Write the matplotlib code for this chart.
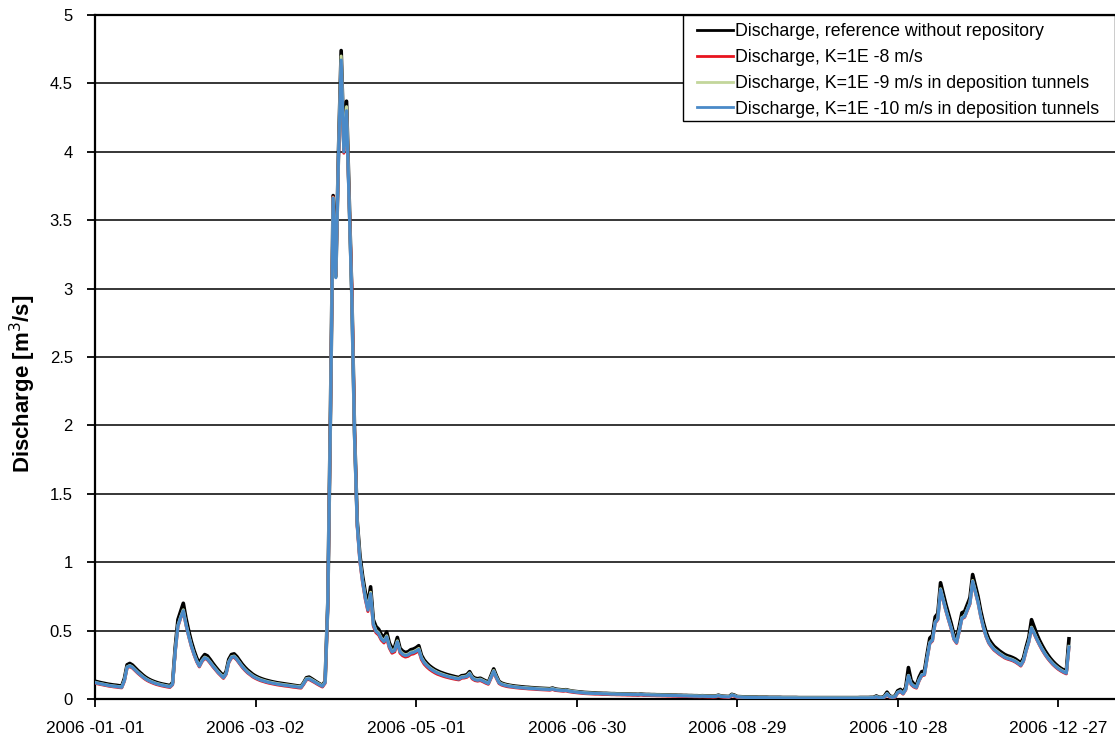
import numpy as np
import pandas as pd
import matplotlib
matplotlib.use('Agg')
import matplotlib.pyplot as plt
from matplotlib.patches import Rectangle
from matplotlib.ticker import FixedLocator, FixedFormatter

plt.rcParams.update({'font.family': ['Liberation Sans', 'DejaVu Sans'], 'axes.unicode_minus': False})

START_DATE = '2006-01-01'
N_DAYS = 365

# daily discharge [m3/s] (Jan..Dec)
ref_q = [
    0.130, 0.125, 0.120, 0.116, 0.112, 0.108, 0.105, 0.102, 0.100, 0.097, 0.095, 0.150, 0.250, 0.260, 0.248, 0.228, 0.208, 0.190, 0.173, 0.158, 0.146, 0.136, 0.128, 0.121, 0.115, 0.110, 0.106, 0.102, 0.098, 0.120, 0.380,
    0.580, 0.640, 0.700, 0.590, 0.500, 0.420, 0.355, 0.300, 0.260, 0.300, 0.325, 0.315, 0.290, 0.262, 0.236, 0.212, 0.190, 0.170, 0.200, 0.290, 0.325, 0.330, 0.310, 0.282, 0.255, 0.232, 0.212, 0.196,
    0.180, 0.168, 0.158, 0.150, 0.143, 0.137, 0.132, 0.127, 0.123, 0.119, 0.116, 0.113, 0.110, 0.107, 0.104, 0.101, 0.098, 0.095, 0.093, 0.120, 0.155, 0.160, 0.148, 0.135, 0.122, 0.110, 0.100, 0.130, 0.700, 2.100, 3.680,
    3.090, 4.000, 4.740, 4.050, 4.370, 3.650, 2.950, 1.950, 1.300, 1.050, 0.900, 0.780, 0.690, 0.820, 0.580, 0.530, 0.510, 0.470, 0.450, 0.490, 0.410, 0.370, 0.380, 0.450, 0.370, 0.350, 0.340, 0.345, 0.360, 0.365,
    0.375, 0.390, 0.320, 0.285, 0.262, 0.243, 0.228, 0.215, 0.205, 0.196, 0.189, 0.182, 0.176, 0.171, 0.166, 0.161, 0.157, 0.170, 0.172, 0.178, 0.200, 0.165, 0.152, 0.148, 0.152, 0.142, 0.132, 0.122, 0.170, 0.220, 0.170,
    0.128, 0.116, 0.109, 0.104, 0.100, 0.097, 0.094, 0.092, 0.090, 0.088, 0.086, 0.085, 0.083, 0.082, 0.080, 0.079, 0.078, 0.077, 0.076, 0.075, 0.080, 0.073, 0.070, 0.068, 0.066, 0.068, 0.063, 0.059, 0.056, 0.054,
    0.052, 0.050, 0.048, 0.047, 0.046, 0.045, 0.044, 0.043, 0.042, 0.041, 0.041, 0.040, 0.039, 0.039, 0.038, 0.038, 0.037, 0.037, 0.036, 0.036, 0.035, 0.035, 0.034, 0.036, 0.034, 0.033, 0.033, 0.032, 0.032, 0.031, 0.031,
    0.030, 0.030, 0.029, 0.029, 0.028, 0.028, 0.027, 0.027, 0.026, 0.026, 0.025, 0.025, 0.024, 0.024, 0.023, 0.024, 0.023, 0.022, 0.022, 0.021, 0.022, 0.028, 0.022, 0.020, 0.019, 0.018, 0.034, 0.028, 0.018, 0.017, 0.016,
    0.015, 0.015, 0.014, 0.014, 0.014, 0.013, 0.013, 0.013, 0.013, 0.012, 0.012, 0.012, 0.012, 0.012, 0.011, 0.011, 0.011, 0.011, 0.011, 0.011, 0.010, 0.010, 0.010, 0.010, 0.010, 0.010, 0.010, 0.010, 0.010, 0.010,
    0.010, 0.010, 0.010, 0.010, 0.010, 0.010, 0.010, 0.010, 0.010, 0.010, 0.010, 0.010, 0.010, 0.011, 0.011, 0.011, 0.011, 0.012, 0.012, 0.022, 0.013, 0.012, 0.020, 0.050, 0.022, 0.016, 0.022, 0.060, 0.070, 0.050, 0.085,
    0.230, 0.135, 0.110, 0.100, 0.160, 0.200, 0.205, 0.330, 0.445, 0.465, 0.600, 0.625, 0.850, 0.770, 0.690, 0.620, 0.550, 0.470, 0.440, 0.530, 0.630, 0.640, 0.690, 0.740, 0.910, 0.830, 0.750, 0.645, 0.560, 0.490,
    0.440, 0.410, 0.385, 0.368, 0.352, 0.338, 0.325, 0.316, 0.310, 0.302, 0.292, 0.278, 0.262, 0.300, 0.380, 0.450, 0.580, 0.525, 0.472, 0.428, 0.390, 0.355, 0.325, 0.298, 0.275, 0.255, 0.238, 0.224, 0.212, 0.202, 0.440,
]

k8_q = [
    0.116, 0.111, 0.107, 0.103, 0.099, 0.095, 0.092, 0.089, 0.087, 0.084, 0.082, 0.130, 0.227, 0.237, 0.226, 0.207, 0.188, 0.171, 0.155, 0.141, 0.130, 0.121, 0.113, 0.106, 0.101, 0.096, 0.092, 0.088, 0.085, 0.104, 0.345,
    0.530, 0.590, 0.640, 0.540, 0.457, 0.383, 0.323, 0.272, 0.235, 0.273, 0.297, 0.287, 0.263, 0.237, 0.213, 0.190, 0.170, 0.151, 0.180, 0.265, 0.300, 0.305, 0.285, 0.258, 0.232, 0.210, 0.191, 0.176,
    0.161, 0.150, 0.141, 0.133, 0.127, 0.121, 0.116, 0.112, 0.108, 0.104, 0.101, 0.098, 0.095, 0.093, 0.090, 0.087, 0.085, 0.082, 0.080, 0.107, 0.140, 0.143, 0.132, 0.121, 0.109, 0.098, 0.088, 0.115, 0.680, 2.070, 3.670,
    3.100, 3.960, 4.650, 3.990, 4.290, 3.630, 3.000, 1.960, 1.260, 1.000, 0.850, 0.730, 0.640, 0.760, 0.535, 0.485, 0.468, 0.430, 0.410, 0.445, 0.372, 0.335, 0.345, 0.408, 0.335, 0.316, 0.307, 0.312, 0.326, 0.330,
    0.340, 0.352, 0.288, 0.255, 0.234, 0.217, 0.203, 0.191, 0.181, 0.174, 0.167, 0.161, 0.156, 0.151, 0.147, 0.143, 0.140, 0.152, 0.154, 0.159, 0.179, 0.147, 0.135, 0.131, 0.135, 0.126, 0.116, 0.108, 0.151, 0.197, 0.151,
    0.113, 0.102, 0.096, 0.091, 0.088, 0.086, 0.083, 0.081, 0.079, 0.077, 0.076, 0.074, 0.073, 0.072, 0.070, 0.069, 0.068, 0.067, 0.066, 0.065, 0.070, 0.063, 0.061, 0.059, 0.057, 0.059, 0.054, 0.051, 0.048, 0.046,
    0.044, 0.042, 0.040, 0.039, 0.038, 0.037, 0.036, 0.036, 0.035, 0.034, 0.034, 0.033, 0.032, 0.032, 0.031, 0.031, 0.030, 0.030, 0.029, 0.029, 0.028, 0.028, 0.027, 0.029, 0.027, 0.026, 0.026, 0.025, 0.025, 0.024, 0.024,
    0.023, 0.023, 0.022, 0.022, 0.021, 0.021, 0.020, 0.020, 0.019, 0.019, 0.018, 0.018, 0.017, 0.017, 0.016, 0.017, 0.016, 0.015, 0.015, 0.014, 0.015, 0.020, 0.015, 0.013, 0.012, 0.011, 0.025, 0.020, 0.011, 0.010, 0.009,
    0.008, 0.008, 0.007, 0.007, 0.007, 0.006, 0.006, 0.006, 0.006, 0.005, 0.005, 0.005, 0.005, 0.005, 0.004, 0.004, 0.004, 0.004, 0.004, 0.004, 0.004, 0.004, 0.004, 0.004, 0.004, 0.004, 0.004, 0.004, 0.004, 0.004,
    0.004, 0.004, 0.004, 0.004, 0.004, 0.004, 0.004, 0.004, 0.004, 0.004, 0.004, 0.004, 0.004, 0.005, 0.005, 0.005, 0.005, 0.006, 0.006, 0.012, 0.006, 0.005, 0.010, 0.034, 0.012, 0.008, 0.012, 0.044, 0.053, 0.036, 0.066,
    0.165, 0.105, 0.088, 0.080, 0.133, 0.170, 0.175, 0.295, 0.405, 0.425, 0.555, 0.580, 0.795, 0.720, 0.643, 0.575, 0.510, 0.435, 0.407, 0.493, 0.587, 0.597, 0.645, 0.695, 0.855, 0.780, 0.703, 0.602, 0.521, 0.455,
    0.408, 0.380, 0.357, 0.341, 0.326, 0.313, 0.300, 0.292, 0.286, 0.279, 0.269, 0.256, 0.241, 0.275, 0.350, 0.415, 0.515, 0.475, 0.432, 0.393, 0.357, 0.325, 0.297, 0.273, 0.251, 0.233, 0.217, 0.204, 0.193, 0.184, 0.375,
]

k9_q = [
    0.122, 0.117, 0.113, 0.109, 0.105, 0.101, 0.098, 0.095, 0.093, 0.090, 0.088, 0.138, 0.235, 0.245, 0.234, 0.215, 0.196, 0.179, 0.163, 0.149, 0.138, 0.129, 0.121, 0.114, 0.109, 0.104, 0.100, 0.096, 0.092, 0.111, 0.355,
    0.540, 0.600, 0.652, 0.550, 0.467, 0.393, 0.332, 0.281, 0.243, 0.282, 0.306, 0.296, 0.272, 0.246, 0.222, 0.199, 0.179, 0.160, 0.189, 0.274, 0.309, 0.314, 0.294, 0.267, 0.241, 0.219, 0.200, 0.185,
    0.170, 0.159, 0.150, 0.142, 0.136, 0.130, 0.125, 0.121, 0.117, 0.113, 0.110, 0.107, 0.104, 0.102, 0.099, 0.096, 0.094, 0.091, 0.089, 0.116, 0.149, 0.152, 0.141, 0.130, 0.118, 0.107, 0.097, 0.124, 0.695, 2.090, 3.665,
    3.085, 3.985, 4.700, 4.030, 4.330, 3.620, 2.930, 1.930, 1.280, 1.020, 0.870, 0.750, 0.660, 0.780, 0.552, 0.502, 0.484, 0.446, 0.426, 0.462, 0.388, 0.351, 0.361, 0.425, 0.351, 0.332, 0.323, 0.328, 0.342, 0.346,
    0.356, 0.369, 0.304, 0.271, 0.249, 0.231, 0.217, 0.205, 0.195, 0.187, 0.180, 0.173, 0.167, 0.162, 0.158, 0.153, 0.150, 0.162, 0.164, 0.169, 0.190, 0.157, 0.145, 0.141, 0.145, 0.136, 0.126, 0.117, 0.161, 0.208, 0.161,
    0.122, 0.111, 0.105, 0.100, 0.097, 0.093, 0.090, 0.088, 0.086, 0.084, 0.083, 0.081, 0.080, 0.079, 0.077, 0.076, 0.075, 0.074, 0.073, 0.072, 0.077, 0.070, 0.068, 0.066, 0.064, 0.066, 0.061, 0.058, 0.055, 0.053,
    0.050, 0.048, 0.046, 0.045, 0.044, 0.043, 0.042, 0.042, 0.041, 0.040, 0.040, 0.039, 0.038, 0.038, 0.037, 0.037, 0.036, 0.036, 0.035, 0.035, 0.034, 0.034, 0.033, 0.035, 0.033, 0.032, 0.032, 0.031, 0.031, 0.030, 0.030,
    0.029, 0.029, 0.028, 0.028, 0.027, 0.027, 0.026, 0.026, 0.025, 0.025, 0.024, 0.024, 0.023, 0.023, 0.022, 0.023, 0.022, 0.021, 0.021, 0.020, 0.021, 0.026, 0.021, 0.019, 0.018, 0.017, 0.031, 0.026, 0.017, 0.016, 0.015,
    0.014, 0.014, 0.013, 0.013, 0.013, 0.012, 0.012, 0.012, 0.012, 0.011, 0.011, 0.011, 0.011, 0.011, 0.010, 0.010, 0.010, 0.010, 0.010, 0.010, 0.009, 0.009, 0.009, 0.009, 0.009, 0.009, 0.009, 0.009, 0.009, 0.009,
    0.009, 0.009, 0.009, 0.009, 0.009, 0.009, 0.009, 0.009, 0.009, 0.009, 0.009, 0.009, 0.009, 0.010, 0.010, 0.010, 0.010, 0.011, 0.011, 0.018, 0.012, 0.011, 0.016, 0.040, 0.018, 0.014, 0.018, 0.050, 0.059, 0.042, 0.072,
    0.173, 0.113, 0.096, 0.088, 0.141, 0.178, 0.183, 0.304, 0.414, 0.434, 0.564, 0.589, 0.806, 0.730, 0.653, 0.585, 0.520, 0.445, 0.416, 0.502, 0.596, 0.606, 0.655, 0.705, 0.866, 0.790, 0.713, 0.611, 0.530, 0.464,
    0.417, 0.389, 0.366, 0.350, 0.335, 0.322, 0.309, 0.301, 0.295, 0.288, 0.278, 0.265, 0.250, 0.284, 0.359, 0.424, 0.525, 0.485, 0.441, 0.402, 0.366, 0.334, 0.306, 0.282, 0.260, 0.242, 0.226, 0.213, 0.202, 0.193, 0.385,
]

k10_q = [
    0.120, 0.115, 0.111, 0.107, 0.103, 0.099, 0.096, 0.093, 0.091, 0.088, 0.086, 0.135, 0.232, 0.242, 0.231, 0.212, 0.193, 0.176, 0.160, 0.146, 0.135, 0.126, 0.118, 0.111, 0.106, 0.101, 0.097, 0.093, 0.089, 0.108, 0.350,
    0.535, 0.595, 0.645, 0.545, 0.462, 0.388, 0.328, 0.277, 0.240, 0.278, 0.302, 0.292, 0.268, 0.242, 0.218, 0.195, 0.175, 0.156, 0.185, 0.270, 0.305, 0.310, 0.290, 0.263, 0.237, 0.215, 0.196, 0.181,
    0.166, 0.155, 0.146, 0.138, 0.132, 0.126, 0.121, 0.117, 0.113, 0.109, 0.106, 0.103, 0.100, 0.098, 0.095, 0.092, 0.090, 0.087, 0.085, 0.112, 0.145, 0.148, 0.137, 0.126, 0.114, 0.103, 0.093, 0.120, 0.690, 2.080, 3.660,
    3.080, 3.970, 4.670, 4.000, 4.300, 3.600, 2.920, 1.920, 1.270, 1.010, 0.860, 0.740, 0.650, 0.770, 0.545, 0.495, 0.478, 0.440, 0.420, 0.455, 0.382, 0.345, 0.355, 0.418, 0.345, 0.326, 0.317, 0.322, 0.336, 0.340,
    0.350, 0.362, 0.298, 0.265, 0.244, 0.226, 0.212, 0.200, 0.190, 0.182, 0.175, 0.169, 0.163, 0.158, 0.154, 0.149, 0.146, 0.158, 0.160, 0.165, 0.185, 0.153, 0.141, 0.137, 0.141, 0.132, 0.122, 0.113, 0.157, 0.203, 0.157,
    0.118, 0.107, 0.101, 0.096, 0.093, 0.090, 0.087, 0.085, 0.083, 0.081, 0.080, 0.078, 0.077, 0.076, 0.074, 0.073, 0.072, 0.071, 0.070, 0.069, 0.074, 0.067, 0.065, 0.063, 0.061, 0.063, 0.058, 0.055, 0.052, 0.050,
    0.048, 0.046, 0.044, 0.043, 0.042, 0.041, 0.040, 0.040, 0.039, 0.038, 0.038, 0.037, 0.036, 0.036, 0.035, 0.035, 0.034, 0.034, 0.033, 0.033, 0.032, 0.032, 0.031, 0.033, 0.031, 0.030, 0.030, 0.029, 0.029, 0.028, 0.028,
    0.027, 0.027, 0.026, 0.026, 0.025, 0.025, 0.024, 0.024, 0.023, 0.023, 0.022, 0.022, 0.021, 0.021, 0.020, 0.021, 0.020, 0.019, 0.019, 0.018, 0.019, 0.024, 0.019, 0.017, 0.016, 0.015, 0.029, 0.024, 0.015, 0.014, 0.013,
    0.012, 0.012, 0.011, 0.011, 0.011, 0.010, 0.010, 0.010, 0.010, 0.009, 0.009, 0.009, 0.009, 0.009, 0.008, 0.008, 0.008, 0.008, 0.008, 0.008, 0.007, 0.007, 0.007, 0.007, 0.007, 0.007, 0.007, 0.007, 0.007, 0.007,
    0.007, 0.007, 0.007, 0.007, 0.007, 0.007, 0.007, 0.007, 0.007, 0.007, 0.007, 0.007, 0.007, 0.008, 0.008, 0.008, 0.008, 0.009, 0.009, 0.016, 0.010, 0.009, 0.014, 0.038, 0.016, 0.012, 0.016, 0.048, 0.057, 0.040, 0.070,
    0.170, 0.110, 0.093, 0.085, 0.138, 0.175, 0.180, 0.300, 0.410, 0.430, 0.560, 0.585, 0.800, 0.725, 0.648, 0.580, 0.515, 0.440, 0.412, 0.498, 0.592, 0.602, 0.650, 0.700, 0.860, 0.785, 0.708, 0.607, 0.526, 0.460,
    0.413, 0.385, 0.362, 0.346, 0.331, 0.318, 0.305, 0.297, 0.291, 0.284, 0.274, 0.261, 0.246, 0.280, 0.355, 0.420, 0.520, 0.480, 0.437, 0.398, 0.362, 0.330, 0.302, 0.278, 0.256, 0.238, 0.222, 0.209, 0.198, 0.189, 0.380,
]

series_labels = [
    'Discharge, reference without repository',
    'Discharge, K=1E -8 m/s',
    'Discharge, K=1E -9 m/s in deposition tunnels',
    'Discharge, K=1E -10 m/s in deposition tunnels',
]
series_colors = ['#000000', '#E8141E', '#C3D69B', '#4A8AC8']

tick_dates = ['2006-01-01', '2006-03-02', '2006-05-01', '2006-06-30', '2006-08-29', '2006-10-28', '2006-12-27']
tick_labels = ['2006 -01 -01', '2006 -03 -02', '2006 -05 -01', '2006 -06 -30', '2006 -08 -29', '2006 -10 -28', '2006 -12 -27']
y_ticks = [0, 0.5, 1, 1.5, 2, 2.5, 3, 3.5, 4, 4.5, 5]
y_tick_labels = ['0', '0.5', '1', '1.5', '2', '2.5', '3', '3.5', '4', '4.5', '5']


def main():
    t0 = pd.Timestamp(START_DATE)
    days = np.arange(N_DAYS)
    W, H = 1115, 742
    fig = plt.figure(figsize=(W / 100, H / 100), dpi=100)
    ax = fig.add_axes([95 / W, 1 - 699 / H, (W - 95) / W, (699 - 15) / H])

    for yv in y_ticks[1:]:
        ax.axhline(yv, color='black', lw=1.1, zorder=1)

    all_series = [ref_q, k8_q, k9_q, k10_q]
    widths = [2.6, 2.2, 2.2, 2.3]
    for q, lab, col, lw in zip(all_series, series_labels, series_colors, widths):
        ax.plot(days, q, color=col, lw=lw, label=lab, zorder=3, solid_joinstyle='round')

    tick_pos = [(pd.Timestamp(d) - t0).days for d in tick_dates]
    ax.set_xlim(0, 381.2)
    ax.set_ylim(0, 5)
    ax.xaxis.set_major_locator(FixedLocator(tick_pos))
    ax.xaxis.set_major_formatter(FixedFormatter(tick_labels))
    ax.yaxis.set_major_locator(FixedLocator(y_ticks))
    ax.yaxis.set_major_formatter(FixedFormatter(y_tick_labels))
    ax.tick_params(axis='both', direction='out', length=6, width=1.3, labelsize=12.5, colors='black')
    ax.tick_params(axis='x', pad=10)
    ax.tick_params(axis='y', labelsize=12, pad=10)

    for side in ['left', 'bottom', 'top']:
        ax.spines[side].set_color('black')
        ax.spines[side].set_linewidth(1.6)
    ax.spines['right'].set_visible(False)

    ax.set_ylabel('Discharge [m$^3$/s]', fontsize=16, fontweight='bold')
    ax.yaxis.set_label_coords(-0.056, 0.461)

    # legend box drawn separately (Excel pads more left/right than top/bottom)
    box = Rectangle((683 / W, 1 - 121 / H), (W - 683) / W, (121 - 15) / H, transform=fig.transFigure,
                    facecolor='white', edgecolor='black', lw=1.0, zorder=4, clip_on=False)
    fig.add_artist(box)
    leg = fig.legend(*ax.get_legend_handles_labels(), loc='upper left', bbox_to_anchor=(697 / W, 1 - 23 / H),
                     bbox_transform=fig.transFigure, borderaxespad=0, borderpad=0, fontsize=12.8,
                     frameon=False, handlelength=2.0, handletextpad=0.12, labelspacing=0.5)
    leg.set_zorder(5)
    for line in leg.get_lines():
        line.set_linewidth(2.0)

    fig.savefig('out.png', dpi=100)
    plt.close(fig)


if __name__ == '__main__':
    main()
